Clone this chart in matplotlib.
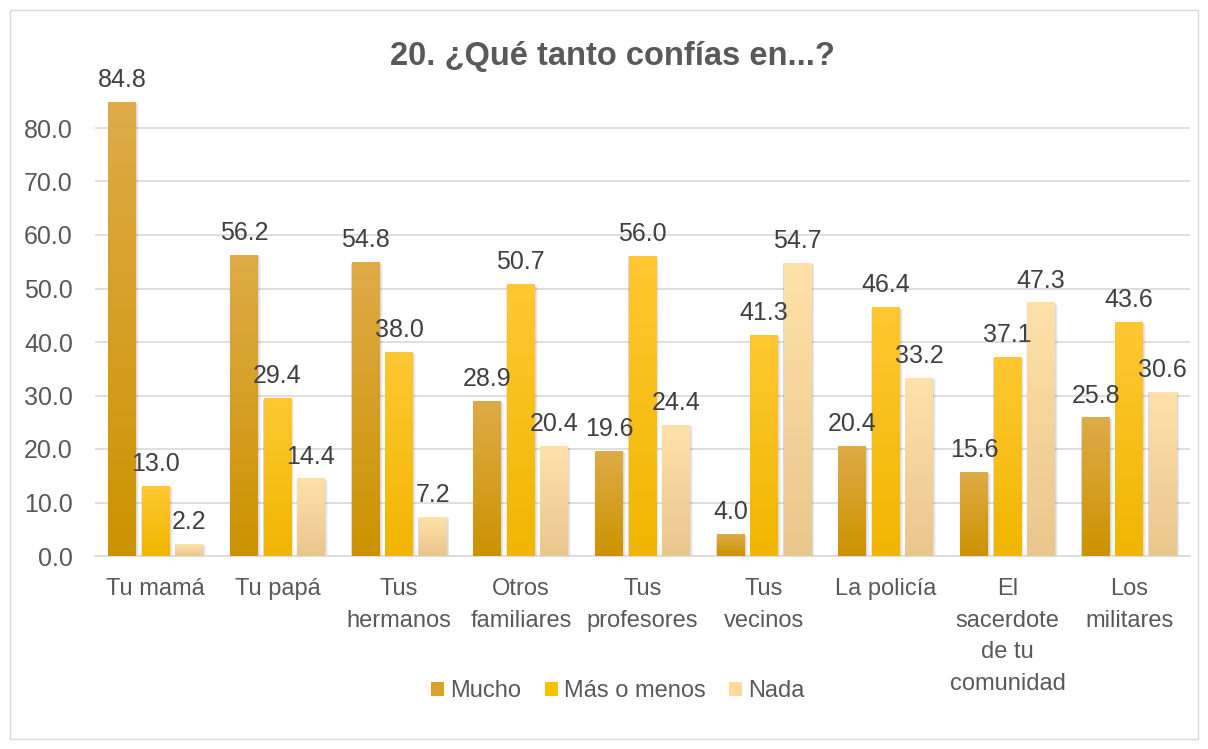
import numpy as np
import matplotlib
matplotlib.use("Agg")
import matplotlib.pyplot as plt
from matplotlib.colors import LinearSegmentedColormap
from matplotlib.patches import Rectangle

plt.rcParams['font.family'] = ['Liberation Sans', 'DejaVu Sans']

categories = ["Tu mamá", "Tu papá", "Tus\nhermanos", "Otros\nfamiliares", "Tus\nprofesores",
              "Tus\nvecinos", "La policía", "El\nsacerdote\nde tu\ncomunidad", "Los\nmilitares"]
mucho = [84.8, 56.2, 54.8, 28.9, 19.6, 4.0, 20.4, 15.6, 25.8]
mas_o_menos = [13.0, 29.4, 38.0, 50.7, 56.0, 41.3, 46.4, 37.1, 43.6]
nada = [2.2, 14.4, 7.2, 20.4, 24.4, 54.7, 33.2, 47.3, 30.6]
series_names = ["Mucho", "Más o menos", "Nada"]
yticks = [0, 10, 20, 30, 40, 50, 60, 70, 80]

grads = [("#DEAB48", "#CC9300"), ("#FFC832", "#F0B600"), ("#FFE1A9", "#E9C68C")]
solid = ["#D9A22A", "#FFC000", "#FDD99A"]

fig = plt.figure(figsize=(12.08, 7.49), dpi=100)
ax = fig.add_axes([95/1208, 1 - 556/749, (1190-95)/1208, (556-74.5)/749])
ax.set_xlim(-0.5, len(categories) - 0.5)
ax.set_ylim(0, 90)

width = 0.23
step = 0.275
x = np.arange(len(categories))
grad = np.linspace(0, 1, 256).reshape(-1, 1)
for si, vals in enumerate([mucho, mas_o_menos, nada]):
    cmap = LinearSegmentedColormap.from_list("g%d" % si, [grads[si][1], grads[si][0]])
    xs = x + (si - 1) * step
    for xi, v in zip(xs, vals):
        for k, a in enumerate([0.06, 0.05, 0.04]):
            d = 0.006 * (k + 1)
            sh = Rectangle((xi - width/2 - d*0.3, 0), width + d*1.6, v - 0.15 * k, facecolor="#000000",
                           alpha=a, edgecolor="none", zorder=2)
            ax.add_patch(sh)
        ax.imshow(grad, cmap=cmap, origin="lower", aspect="auto",
                  extent=(xi - width/2, xi + width/2, 0, v), zorder=3, interpolation="bilinear")
        ax.annotate(f"{v:.1f}", (xi, v), xytext=(0, 7.5), textcoords="offset points",
                    ha="center", va="bottom", fontsize=18, color="#404040", zorder=5)
    ax.bar(xs, vals, width=0, color=solid[si], label=series_names[si])

ax.set_xlim(-0.5, len(categories) - 0.5)
ax.set_ylim(0, 90)
ax.set_yticks(yticks)
ax.set_yticklabels([f"{t:.1f}" for t in yticks])
ax.yaxis.grid(True, color="#D9D9D9", linewidth=1.2, zorder=0)
ax.set_axisbelow(True)
ax.set_xticks(x)
ax.set_xticklabels(categories, fontsize=17, color="#595959", linespacing=1.56)
ax.tick_params(axis="y", labelsize=18, colors="#595959", length=0, pad=16)
ax.tick_params(axis="x", length=0, pad=16)
for s in ["top", "right", "left"]:
    ax.spines[s].set_visible(False)
ax.spines["bottom"].set_color("#D9D9D9")
ax.spines["bottom"].set_linewidth(1.2)

fig.text(612/1208, 1 - 57/749, "20. ¿Qué tanto confías en...?", ha="center", va="center",
         fontsize=23.5, fontweight="bold", color="#595959")

handles = [Rectangle((0, 0), 1, 1, facecolor=c) for c in solid]
fig.legend(handles, series_names, loc="center", bbox_to_anchor=(618/1208, 1 - 691/749), ncol=3,
           frameon=False, fontsize=17, handlelength=0.55, handleheight=0.55, handletextpad=0.25,
           columnspacing=1.0, labelcolor="#595959")

border = Rectangle((10/1208, 10/749), 1188/1208, 729/749, transform=fig.transFigure,
                   facecolor="none", edgecolor="#D9D9D9", linewidth=1)
fig.patches.append(border)

fig.savefig("out.png", dpi=100)
